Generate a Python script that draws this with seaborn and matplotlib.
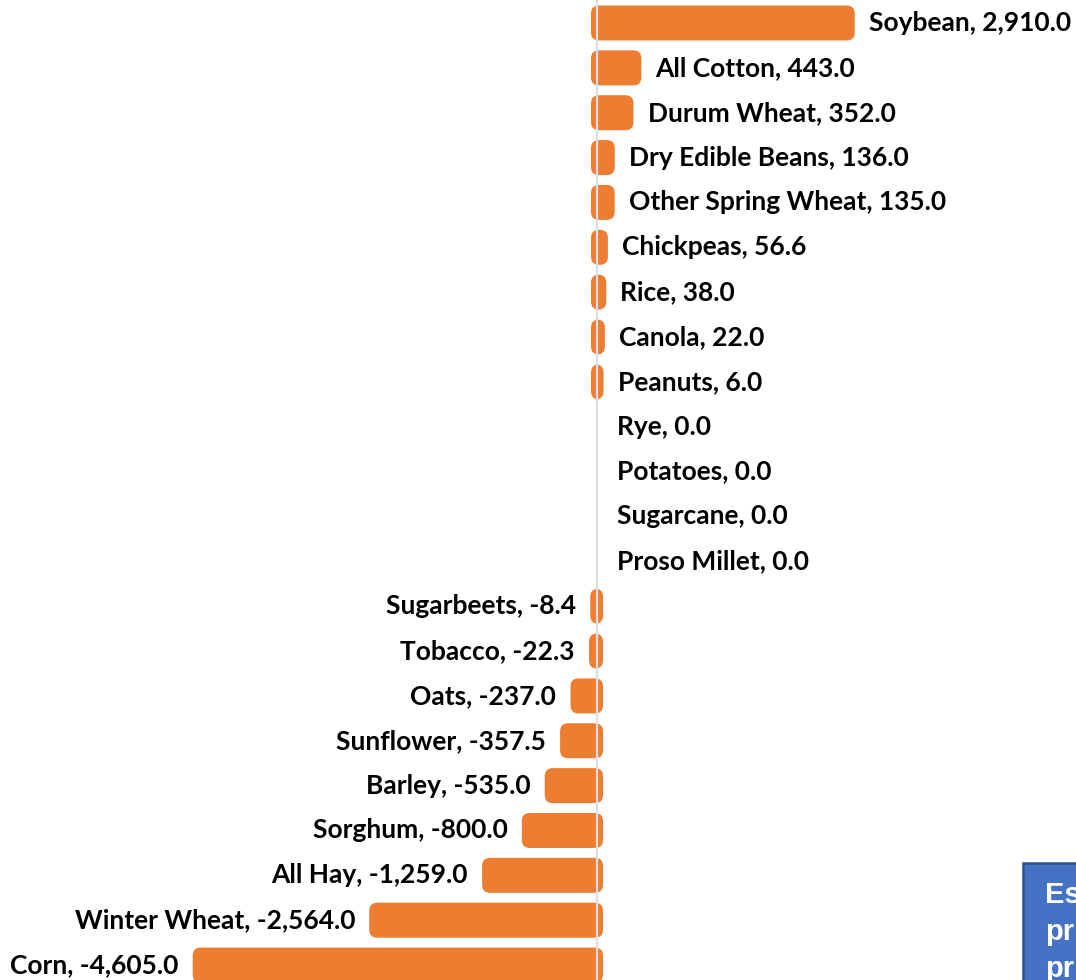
import matplotlib
matplotlib.use("Agg")
import matplotlib.pyplot as plt
from matplotlib.patches import FancyBboxPatch, Rectangle
import seaborn as sns
import pandas as pd

# Change in planted area by crop
crops = [
    "Soybean", "All Cotton", "Durum Wheat", "Dry Edible Beans", "Other Spring Wheat",
    "Chickpeas", "Rice", "Canola", "Peanuts", "Rye", "Potatoes", "Sugarcane",
    "Proso Millet", "Sugarbeets", "Tobacco", "Oats", "Sunflower", "Barley",
    "Sorghum", "All Hay", "Winter Wheat", "Corn",
]
changes = [
    2910.0, 443.0, 352.0, 136.0, 135.0, 56.6, 38.0, 22.0, 6.0, 0.0, 0.0, 0.0,
    0.0, -8.4, -22.3, -237.0, -357.5, -535.0, -800.0, -1259.0, -2564.0, -4605.0,
]
box_lines = ["Es", "pr", "pr"]

BAR_COLOR = "#ED7D31"
W, H, DPI = 1076, 980, 100

df = pd.DataFrame({"crop": crops, "change": changes})

sns.set_theme(style="white")
plt.rcParams["font.family"] = ["Lato", "DejaVu Sans"]

fig = plt.figure(figsize=(W / DPI, H / DPI), dpi=DPI)
ax = fig.add_axes([0, 0, 1, 1])

sns.barplot(data=df, x="change", y="crop", order=crops, orient="h",
            color=BAR_COLOR, width=0.78, saturation=1, ax=ax)

# axis range: zero sits at x=597 px; rows every 44.86 px
px_per_unit = 0.0865
x0_px = 597
ax.set_xlim(-x0_px / px_per_unit, (W - x0_px) / px_per_unit)
row_px = 44.86
first_px = 23
ax.set_ylim((H - first_px) / row_px, -first_px / row_px)
ax.axis("off")

# convert bars into rounded boxes
ux = 1 / px_per_unit      # data units per pixel, x
uy = 1 / row_px           # data units per pixel, y
aspect = uy / ux
pad_px = 6
for p in list(ax.patches):
    x, y, w, h = p.get_x(), p.get_y(), p.get_width(), p.get_height()
    p.remove()
    if w == 0:
        continue
    left = min(x, x + w)
    cy = y + h / 2
    inner_h = h - 2 * pad_px * uy
    box = FancyBboxPatch(
        (left, cy - inner_h / 2), abs(w), inner_h,
        boxstyle=f"round,pad={pad_px * ux},rounding_size={8 * ux}",
        mutation_aspect=aspect, facecolor=BAR_COLOR, edgecolor="none", zorder=2,
    )
    ax.add_patch(box)

ax.axvline(0, color="#D9DDE6", lw=1.6, zorder=3)

for i, (name, val) in enumerate(zip(crops, changes)):
    label = f"{name}, {val:,.1f}"
    off = 14.5 if val >= 0 else -14.5
    ax.annotate(label, xy=(val, i), xytext=(off, 0), textcoords="offset points",
                ha="left" if val >= 0 else "right", va="center",
                fontsize=19, fontweight="bold", color="black", zorder=4)

# text box in the lower right corner
bx, by = 1023 / W, 1 - 863 / H
fig.patches.append(Rectangle((bx, -0.05), 0.2, by + 0.05, transform=fig.transFigure,
                             facecolor="#4472C4", edgecolor="#2F528F", lw=1.8,
                             zorder=5))
for k, line in enumerate(box_lines):
    fig.text(1045 / W, 1 - (903 + 37 * k) / H, line, transform=fig.transFigure,
             fontsize=21, fontweight="bold", color="white",
             family=["Liberation Sans", "DejaVu Sans"], ha="left", va="baseline",
             zorder=6)

fig.savefig("out.png", dpi=DPI)
